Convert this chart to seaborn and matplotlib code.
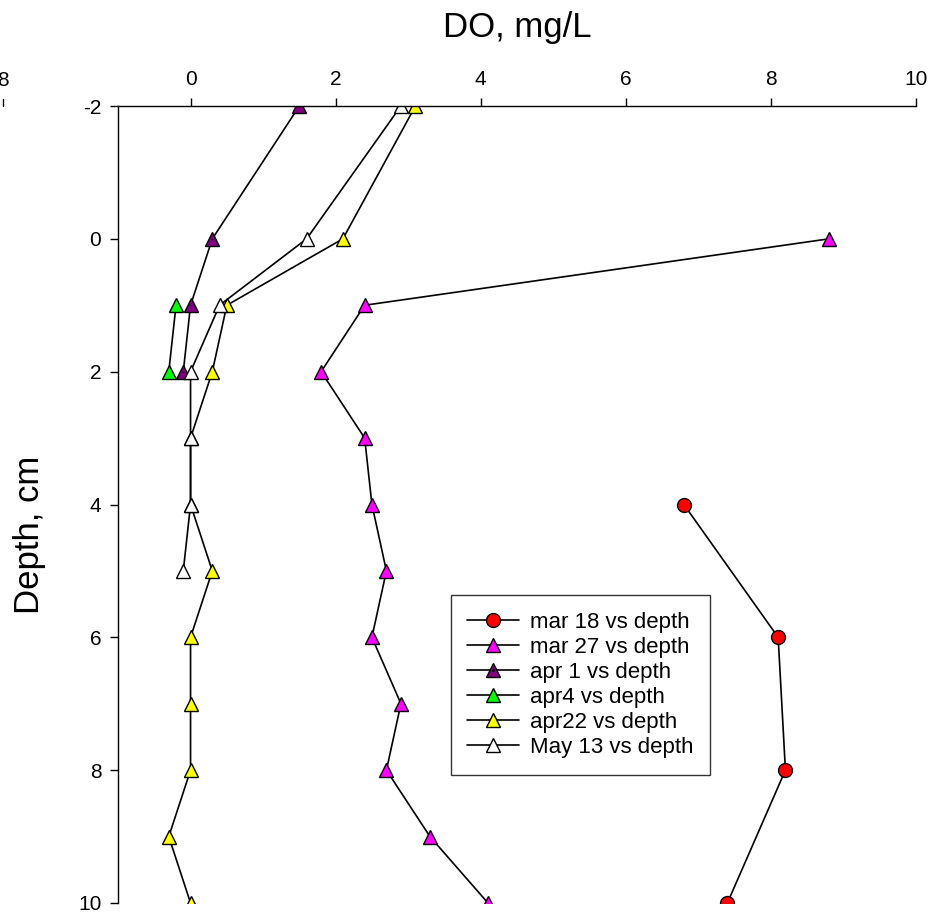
import numpy as np
import pandas as pd
import matplotlib
matplotlib.use("Agg")
import matplotlib.pyplot as plt
import seaborn as sns
from matplotlib.legend_handler import HandlerTuple

# 各日期的溶解氧剖面 (DO, mg/L vs depth, cm)
mar18_depth = [4, 6, 8, 10]
mar18_do = [6.8, 8.1, 8.2, 7.4]

mar27_depth = [0, 1, 2, 3, 4, 5, 6, 7, 8, 9, 10]
mar27_do = [8.8, 2.4, 1.8, 2.4, 2.5, 2.7, 2.5, 2.9, 2.7, 3.3, 4.1]

apr1_depth = [-2, 0, 1, 2]
apr1_do = [1.5, 0.3, 0.0, -0.1]

apr4_depth = [1, 2]
apr4_do = [-0.2, -0.3]

apr22_depth = [-2, 0, 1, 2, 3, 4, 5, 6, 7, 8, 9, 10]
apr22_do = [3.1, 2.1, 0.5, 0.3, 0.0, 0.0, 0.3, 0.0, 0.0, 0.0, -0.3, 0.0]

may13_depth = [-2, 0, 1, 2, 3, 4, 5]
may13_do = [2.9, 1.6, 0.4, 0.0, 0.0, 0.0, -0.1]

labels = ["mar 18 vs depth", "mar 27 vs depth", "apr 1 vs depth",
          "apr4 vs depth", "apr22 vs depth", "May 13 vs depth"]
depths = [mar18_depth, mar27_depth, apr1_depth, apr4_depth, apr22_depth, may13_depth]
dos = [mar18_do, mar27_do, apr1_do, apr4_do, apr22_do, may13_do]
markers = ["o", "^", "^", "^", "^", "^"]
faces = ["#FF0000", "#FF00FF", "#800080", "#00FF00", "#FFFF00", "#FFFFFF"]

sns.set_theme(style="ticks")
plt.rcParams["font.family"] = ["Liberation Sans", "DejaVu Sans"]
plt.rcParams["axes.unicode_minus"] = False
plt.rcParams["text.color"] = "black"
plt.rcParams["axes.labelcolor"] = "black"

fig = plt.figure(figsize=(9.41, 9.16), dpi=100)
ax = fig.add_axes([118 / 941, 1 - 903 / 916, 798 / 941, 797 / 916])

handles = []
for lab, d, v, m, fc in zip(labels, depths, dos, markers, faces):
    df = pd.DataFrame({"DO": v, "depth": d})
    sns.lineplot(data=df, x="DO", y="depth", orient="y", sort=False, estimator=None,
                 ax=ax, color="black", linewidth=1.2, marker=m, markersize=10,
                 markerfacecolor=fc, markeredgecolor="black", markeredgewidth=1.0,
                 legend=False)
    h = ax.lines[-1]
    if lab == "apr 1 vs depth":
        # 紫色三角中心的小黑点
        sns.scatterplot(data=df, x="DO", y="depth", ax=ax, marker=".", s=6,
                        color="black", linewidth=0, legend=False, zorder=5)
        dot = plt.Line2D([], [], linestyle="none", marker=".", markersize=2, color="black")
        handles.append((h, dot))
    else:
        handles.append(h)

ax.set_xlim(-1, 10)
ax.set_ylim(10, -2)
ax.set_xticks([0, 2, 4, 6, 8, 10])
ax.set_yticks([-2, 0, 2, 4, 6, 8, 10])
ax.xaxis.tick_top()
ax.xaxis.set_label_position("top")
ax.spines["bottom"].set_visible(False)
ax.spines["right"].set_visible(False)
for s in ["top", "left"]:
    ax.spines[s].set_linewidth(1.0)
    ax.spines[s].set_color("black")
ax.tick_params(axis="both", direction="out", length=6, width=1.0, labelsize=15,
               color="black", labelcolor="black")
ax.tick_params(axis="x", pad=6)
ax.tick_params(axis="y", pad=6)

ax.set_xlabel("DO, mg/L", fontsize=25, labelpad=24)
ax.set_ylabel("Depth, cm", fontsize=25)
ax.yaxis.set_label_coords(-0.09, 0.462)

# 左上角残留的刻度标签
fig.text(3 / 941, 1 - 80 / 916, "8", fontsize=15, ha="center", va="center")
fig.add_artist(plt.Line2D([3 / 941, 3 / 941], [1 - 99 / 916, 1 - 106 / 916],
                          color="black", linewidth=1.0))

leg = ax.legend(handles, labels, loc="upper left", bbox_to_anchor=(0.417, 0.386),
                borderaxespad=0, fontsize=16, frameon=True, fancybox=False,
                edgecolor="black", handlelength=2.3, handletextpad=0.5,
                borderpad=0.75, labelspacing=0.18,
                handler_map={tuple: HandlerTuple(ndivide=1)})
leg.get_frame().set_linewidth(1.0)

fig.savefig("out.png", dpi=100)
